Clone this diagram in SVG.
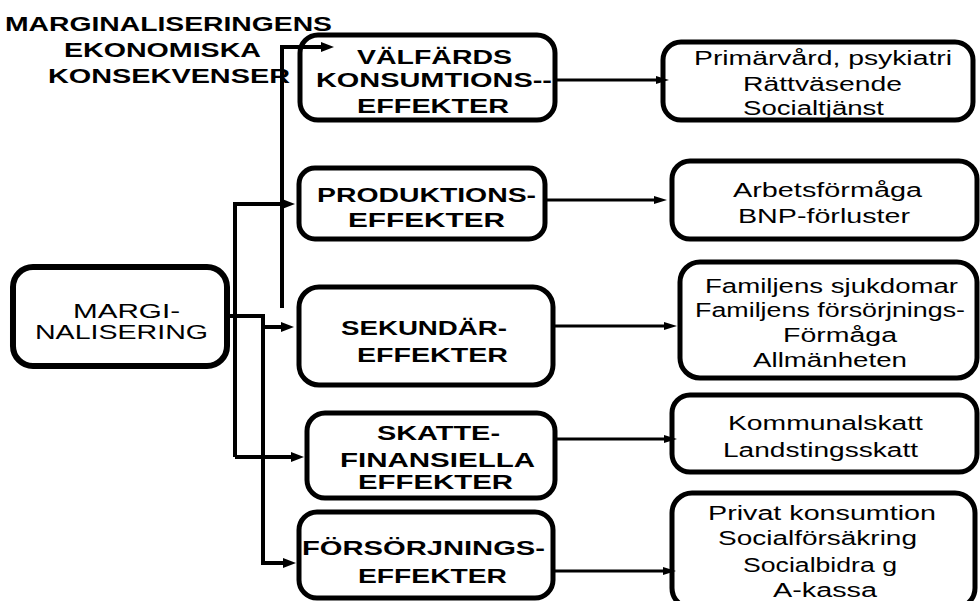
<svg xmlns="http://www.w3.org/2000/svg" width="980" height="601" viewBox="0 0 980 601">
<defs>
<style>
.box{fill:#fff;stroke:#000;stroke-width:5}
.bt{font-family:"Liberation Sans",Arial,sans-serif;font-weight:bold;font-size:21px;fill:#000}
.rt{font-family:"Liberation Sans",Arial,sans-serif;font-size:20px;fill:#000}
.tt{font-family:"Liberation Sans",Arial,sans-serif;font-weight:bold;font-size:20px;fill:#000}
.cl{fill:none;stroke:#000;stroke-width:4}
.cr{fill:none;stroke:#000;stroke-width:3}
</style>
<marker id="aL" markerUnits="userSpaceOnUse" markerWidth="14" markerHeight="12" refX="1" refY="6" orient="auto"><path d="M0,1 L13,6 L0,11 Z" fill="#000"/></marker>
<marker id="aR" markerUnits="userSpaceOnUse" markerWidth="14" markerHeight="10" refX="1" refY="5" orient="auto"><path d="M0,1 L13,5 L0,9 Z" fill="#000"/></marker>
</defs>
<rect width="980" height="601" fill="#fff"/>

<g id="title">
<text class="tt" x="5" y="31" textLength="327" lengthAdjust="spacingAndGlyphs">MARGINALISERINGENS</text>
<text class="tt" x="64" y="57" textLength="197" lengthAdjust="spacingAndGlyphs">EKONOMISKA</text>
<text class="tt" x="48" y="83" textLength="242" lengthAdjust="spacingAndGlyphs">KONSEKVENSER</text>
</g>

<g id="n-valfards">
<rect class="box" x="300" y="35" width="255" height="85" rx="18"/>
<text class="bt" x="357" y="64" textLength="155" lengthAdjust="spacingAndGlyphs">VÄLFÄRDS</text>
<text class="bt" x="316" y="87" textLength="236" lengthAdjust="spacingAndGlyphs">KONSUMTIONS--</text>
<text class="bt" x="357" y="113" textLength="152" lengthAdjust="spacingAndGlyphs">EFFEKTER</text>
</g>

<g id="n-produktion">
<rect class="box" x="299" y="168" width="246" height="71" rx="16"/>
<text class="bt" x="317" y="202" textLength="219" lengthAdjust="spacingAndGlyphs">PRODUKTIONS-</text>
<text class="bt" x="348" y="227" textLength="157" lengthAdjust="spacingAndGlyphs">EFFEKTER</text>
</g>

<g id="n-marg">
<rect class="box" x="13" y="267" width="214" height="99" rx="20" style="stroke-width:6"/>
<text class="rt" x="73" y="318" textLength="107" lengthAdjust="spacingAndGlyphs">MARGI-</text>
<text class="rt" x="35" y="339" textLength="173" lengthAdjust="spacingAndGlyphs">NALISERING</text>
</g>

<g id="n-sekundar">
<rect class="box" x="299" y="287" width="254" height="98" rx="20"/>
<text class="bt" x="341" y="335" textLength="166" lengthAdjust="spacingAndGlyphs">SEKUNDÄR-</text>
<text class="bt" x="357" y="362" textLength="151" lengthAdjust="spacingAndGlyphs">EFFEKTER</text>
</g>

<g id="n-skatte">
<rect class="box" x="307" y="413" width="248" height="85" rx="18"/>
<text class="bt" x="377" y="440" textLength="123" lengthAdjust="spacingAndGlyphs">SKATTE-</text>
<text class="bt" x="340" y="467" textLength="195" lengthAdjust="spacingAndGlyphs">FINANSIELLA</text>
<text class="bt" x="358" y="489" textLength="155" lengthAdjust="spacingAndGlyphs">EFFEKTER</text>
</g>

<g id="n-forsorjning">
<rect class="box" x="299" y="512" width="254" height="86" rx="18"/>
<text class="bt" x="302" y="555" textLength="243" lengthAdjust="spacingAndGlyphs">FÖRSÖRJNINGS-</text>
<text class="bt" x="358" y="583" textLength="149" lengthAdjust="spacingAndGlyphs">EFFEKTER</text>
</g>

<g id="r-primarvard">
<rect class="box" x="663" y="42" width="310" height="78" rx="18"/>
<text class="rt" x="694" y="65" textLength="258" lengthAdjust="spacingAndGlyphs">Primärvård, psykiatri</text>
<text class="rt" x="743" y="91" textLength="159" lengthAdjust="spacingAndGlyphs">Rättväsende</text>
<text class="rt" x="743" y="115" textLength="141" lengthAdjust="spacingAndGlyphs">Socialtjänst</text>
</g>

<g id="r-arbetsformaga">
<rect class="box" x="672" y="161" width="305" height="78" rx="18"/>
<text class="rt" x="733" y="197" textLength="189" lengthAdjust="spacingAndGlyphs">Arbetsförmåga</text>
<text class="rt" x="738" y="223" textLength="172" lengthAdjust="spacingAndGlyphs">BNP-förluster</text>
</g>

<g id="r-familjens">
<rect class="box" x="680" y="262" width="297" height="116" rx="20"/>
<text class="rt" x="705" y="293" textLength="253" lengthAdjust="spacingAndGlyphs">Familjens sjukdomar</text>
<text class="rt" x="695" y="317" textLength="270" lengthAdjust="spacingAndGlyphs">Familjens försörjnings-</text>
<text class="rt" x="783" y="342" textLength="114" lengthAdjust="spacingAndGlyphs">Förmåga</text>
<text class="rt" x="753" y="367" textLength="154" lengthAdjust="spacingAndGlyphs">Allmänheten</text>
</g>

<g id="r-skatt">
<rect class="box" x="672" y="395" width="305" height="77" rx="18"/>
<text class="rt" x="728" y="430" textLength="195" lengthAdjust="spacingAndGlyphs">Kommunalskatt</text>
<text class="rt" x="723" y="457" textLength="195" lengthAdjust="spacingAndGlyphs">Landstingsskatt</text>
</g>

<g id="r-privat">
<rect class="box" x="672" y="493" width="303" height="115" rx="20"/>
<text class="rt" x="708" y="520" textLength="228" lengthAdjust="spacingAndGlyphs">Privat konsumtion</text>
<text class="rt" x="718" y="545" textLength="199" lengthAdjust="spacingAndGlyphs">Socialförsäkring</text>
<text class="rt" x="743" y="572" textLength="154" lengthAdjust="spacingAndGlyphs">Socialbidra g</text>
<text class="rt" x="773" y="597" textLength="104" lengthAdjust="spacingAndGlyphs">A-kassa</text>
</g>

<g id="connectors">
<path class="cl" d="M282,308 V47 H322" marker-end="url(#aL)"/>
<path class="cl" d="M235,457 V204 H283" marker-end="url(#aL)"/>
<path class="cl" d="M235,457 H292" marker-end="url(#aL)"/>
<path class="cl" d="M227,316 H263 V563 H284" marker-end="url(#aL)"/>
<path class="cl" d="M263,327 H282" marker-end="url(#aL)"/>
<path class="cr" d="M555,80 H657" marker-end="url(#aR)"/>
<path class="cr" d="M545,200 H655" marker-end="url(#aR)"/>
<path class="cr" d="M553,326 H665" marker-end="url(#aR)"/>
<path class="cr" d="M555,439 H665" marker-end="url(#aR)"/>
<path class="cr" d="M553,571 H664" marker-end="url(#aR)"/>
</g>
</svg>
